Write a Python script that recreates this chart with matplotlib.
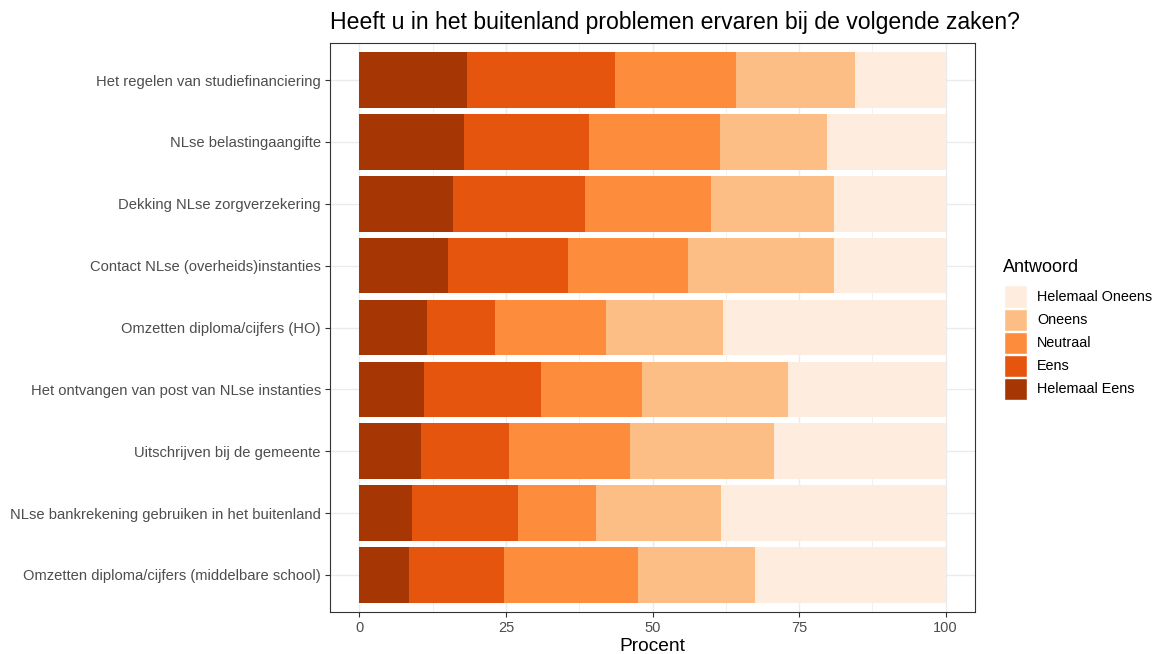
import matplotlib
matplotlib.use("Agg")
import matplotlib.pyplot as plt
import matplotlib.patches as mpatches
import numpy as np

plt.rcParams['font.family'] = ['Liberation Sans', 'DejaVu Sans']

categories = [
    "Het regelen van studiefinanciering",
    "NLse belastingaangifte",
    "Dekking NLse zorgverzekering",
    "Contact NLse (overheids)instanties",
    "Omzetten diploma/cijfers (HO)",
    "Het ontvangen van post van NLse instanties",
    "Uitschrijven bij de gemeente",
    "NLse bankrekening gebruiken in het buitenland",
    "Omzetten diploma/cijfers (middelbare school)",
]
helemaal_eens   = [18.3, 17.8, 15.9, 15.2, 11.6, 11.1, 10.6, 9.0, 8.4]
eens            = [25.3, 21.4, 22.6, 20.4, 11.6, 19.9, 14.9, 18.0, 16.2]
neutraal        = [20.7, 22.3, 21.5, 20.4, 18.8, 17.2, 20.7, 13.3, 22.9]
oneens          = [20.2, 18.3, 20.9, 25.0, 20.0, 24.9, 24.6, 21.4, 19.9]
helemaal_oneens = [15.5, 20.2, 19.1, 19.0, 38.0, 26.9, 29.2, 38.3, 32.6]

series_names = ["Helemaal Eens", "Eens", "Neutraal", "Oneens", "Helemaal Oneens"]
series_vals = [helemaal_eens, eens, neutraal, oneens, helemaal_oneens]
colors = ["#A63603", "#E6550D", "#FD8D3C", "#FDBE85", "#FEEDDE"]
x_ticks = [0, 25, 50, 75, 100]

W, H = 1159, 654
fig = plt.figure(figsize=(W / 100, H / 100), dpi=100)
fig.patch.set_facecolor("white")
l, r, t, b = 330, 975, 43, 612
ax = fig.add_axes([l / W, 1 - b / H, (r - l) / W, (b - t) / H])

n = len(categories)
y = np.arange(n)[::-1]
left = np.zeros(n)
for name, vals, c in zip(series_names, series_vals, colors):
    v = np.array(vals)
    ax.barh(y, v, left=left, height=0.9, color=c, label=name, zorder=3)
    left += v

ax.set_xlim(-5, 105)
ax.set_ylim(-0.6, n - 0.4)
ax.set_yticks(y)
ax.set_yticklabels(categories, fontsize=10.6, color="#4D4D4D")
ax.set_xticks(x_ticks)
ax.set_xticklabels([str(v) for v in x_ticks], fontsize=10.5, color="#4D4D4D")
ax.set_xticks([12.5, 37.5, 62.5, 87.5], minor=True)
ax.grid(True, which="major", color="#EBEBEB", linewidth=1.0, zorder=0)
ax.grid(True, which="minor", axis="x", color="#EBEBEB", linewidth=0.5, zorder=0)
ax.tick_params(axis="both", which="major", length=3.5, color="#333333", width=0.8, pad=3)
ax.tick_params(axis="x", which="minor", length=0)
for s in ax.spines.values():
    s.set_color("#333333")
    s.set_linewidth(0.8)
ax.set_axisbelow(True)

ax.set_xlabel("Procent", fontsize=13.8, labelpad=2)
fig.text(l / W, 1 - 22 / H, "Heeft u in het buitenland problemen ervaren bij de volgende zaken?",
         fontsize=16.6, ha="left", va="center")

fig.text(1003 / W, 1 - 267 / H, "Antwoord", fontsize=13, ha="left", va="center")
handles = [mpatches.Patch(facecolor=c, edgecolor="white", linewidth=1, label=nm)
           for nm, c in zip(series_names, colors)][::-1]
leg = fig.legend(handles=handles, loc="upper left",
                 bbox_to_anchor=(1004 / W, 1 - 285.5 / H), frameon=False,
                 fontsize=10.4, handlelength=1.6, handleheight=2.0,
                 labelspacing=0.05, handletextpad=0.7, borderaxespad=0,
                 borderpad=0)

fig.savefig("out.png", dpi=100)
